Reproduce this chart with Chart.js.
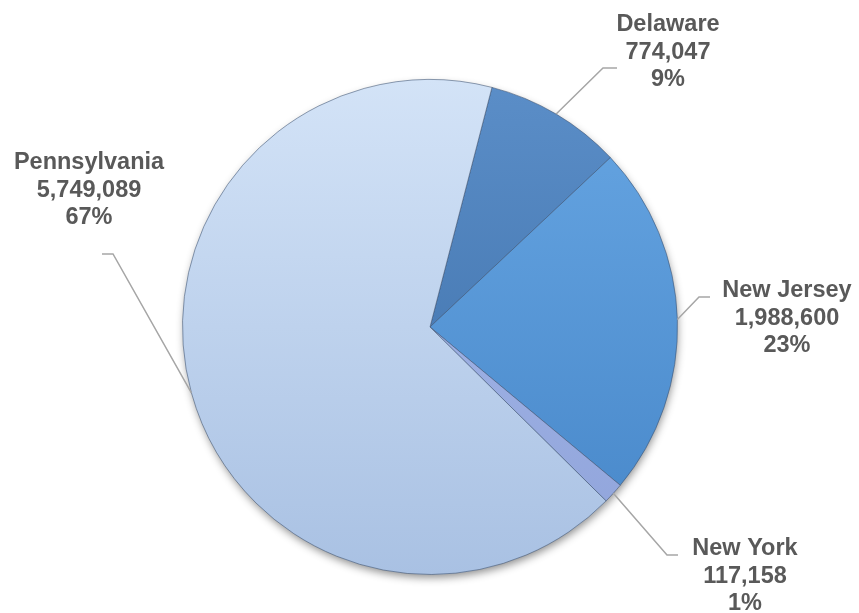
<!DOCTYPE html>
<html>
<head>
<meta charset="utf-8">
<script src="https://cdn.jsdelivr.net/npm/chart.js@4/dist/chart.umd.min.js"></script>
<style>
  html, body { margin: 0; padding: 0; background: #ffffff; }
  #wrap { width: 859px; height: 613px; position: relative; }
</style>
</head>
<body>
<div id="wrap"><canvas id="pie" width="859" height="613"></canvas></div>
<script>
// data
const states = ["Delaware", "New Jersey", "New York", "Pennsylvania"];
const population = [774047, 1988600, 117158, 5749089];
const percentLabels = ["9%", "23%", "1%", "67%"];

// slice colours: light (top) and dark (bottom) of each gradient
const lightColors = ["#5b8ec8", "#67a6e3", "#aabcec", "#d3e3f7"];
const darkColors = ["#3a6ca5", "#4686c8", "#8fa3da", "#a9c1e3"];

// where each label sits (text centre, first baseline) and its leader elbow
const labelLayout = [
  { x: 668, y: 31, elbow: [603, 68], end: [617, 68] },
  { x: 787, y: 297, elbow: [699, 297], end: [710, 297] },
  { x: 745, y: 555, elbow: [667, 555], end: [678, 555] },
  { x: 89, y: 169, elbow: [113, 254], end: [102, 254] },
];

const lineGap = 27.5;
const fmt = (v) => v.toLocaleString("en-US");

const gradientFill = (context) => {
  const i = context.dataIndex;
  const { chart } = context;
  const area = chart.chartArea;
  if (!area) return lightColors[i];
  const g = chart.ctx.createLinearGradient(0, area.top, 0, area.bottom);
  g.addColorStop(0, lightColors[i]);
  g.addColorStop(1, darkColors[i]);
  return g;
};

const shadowPlugin = {
  id: "pieShadow",
  beforeDatasetsDraw(chart) {
    const arc = chart.getDatasetMeta(0).data[0];
    if (!arc) return;
    const ctx = chart.ctx;
    ctx.save();
    ctx.shadowColor = "rgba(0, 0, 0, 0.45)";
    ctx.shadowBlur = 9;
    ctx.shadowOffsetX = 1;
    ctx.shadowOffsetY = 4;
    ctx.beginPath();
    ctx.arc(arc.x, arc.y, arc.outerRadius - 1, 0, Math.PI * 2);
    ctx.fillStyle = "#b9cfee";
    ctx.fill();
    ctx.restore();
  },
};

const labelPlugin = {
  id: "leaderLabels",
  afterDatasetsDraw(chart) {
    const ctx = chart.ctx;
    const meta = chart.getDatasetMeta(0);
    ctx.save();
    meta.data.forEach((arc, i) => {
      const mid = (arc.startAngle + arc.endAngle) / 2;
      const sx = arc.x + Math.cos(mid) * arc.outerRadius;
      const sy = arc.y + Math.sin(mid) * arc.outerRadius;
      const lay = labelLayout[i];
      ctx.beginPath();
      ctx.strokeStyle = "#a6a6a6";
      ctx.lineWidth = 1.5;
      ctx.moveTo(sx, sy);
      ctx.lineTo(lay.elbow[0], lay.elbow[1]);
      ctx.lineTo(lay.end[0], lay.end[1]);
      ctx.stroke();

      ctx.fillStyle = "#595959";
      ctx.font = "bold 23.5px 'Liberation Sans', Arial, sans-serif";
      ctx.textAlign = "center";
      ctx.textBaseline = "alphabetic";
      const lines = [states[i], fmt(population[i]), percentLabels[i]];
      lines.forEach((t, k) => ctx.fillText(t, lay.x, lay.y + k * lineGap));
    });
    ctx.restore();
  },
};

new Chart(document.getElementById("pie"), {
  type: "pie",
  data: {
    labels: states,
    datasets: [
      {
        data: population,
        backgroundColor: gradientFill,
        borderColor: "rgba(60, 80, 110, 0.55)",
        borderWidth: 1,
      },
    ],
  },
  options: {
    responsive: false,
    animation: false,
    rotation: 14.5,
    layout: { padding: { top: 79, bottom: 38, left: 182, right: 181 } },
    plugins: {
      legend: { display: false },
      tooltip: { enabled: false },
    },
  },
  plugins: [shadowPlugin, labelPlugin],
});
</script>
</body>
</html>
